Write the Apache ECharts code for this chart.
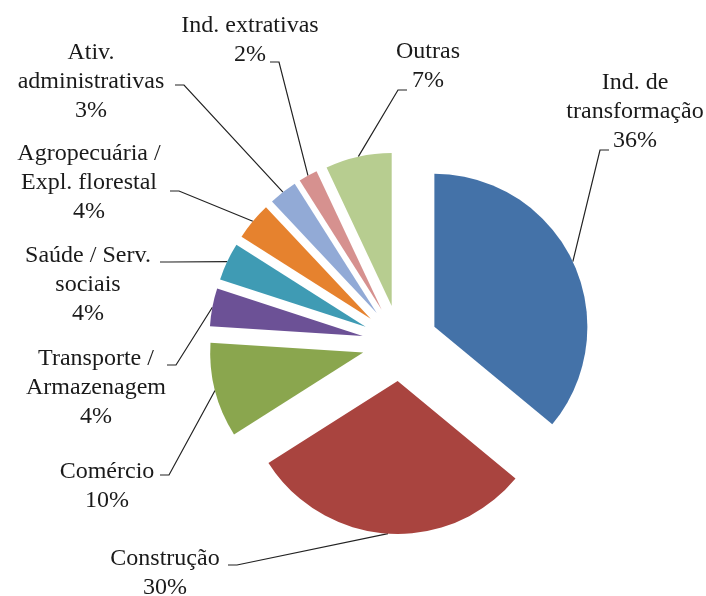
<!DOCTYPE html>
<html>
<head>
<meta charset="utf-8">
<script src="https://cdn.jsdelivr.net/npm/echarts@6/dist/echarts.min.js"></script>
<style>
  html, body { margin: 0; padding: 0; background: #fff; }
  #chart { width: 706px; height: 596px; }
</style>
</head>
<body>
<div id="chart"></div>
<script>
// dados (%)
const sectors = [
  "Ind. de\ntransformação", "Construção", "Comércio", "Transporte /\nArmazenagem",
  "Saúde / Serv.\nsociais", "Agropecuária /\nExpl. florestal", "Ativ.\nadministrativas",
  "Ind. extrativas", "Outras"
];
const shares = [36, 30, 10, 4, 4, 4, 3, 2, 7];
const colors = ["#4472a8", "#a9443f", "#8aa64e", "#6c5196", "#3f9bb4", "#e6822e", "#92aad6", "#d6918f", "#b7cd90"];

// layout: centre of each label block and where its leader line meets the text
const labelAt = [[635, 112], [165, 573], [107, 486], [96, 388], [88, 285], [89, 183], [91, 82], [250, 40], [428, 66]];
const leaderEnd = [[609, 150], [228, 565], [160, 475], [167, 365], [160, 262], [170, 191], [175, 85], [270, 62], [407, 90]];

const cx = 400, cy = 343, R = 153, gap = 38;
const total = shares.reduce((a, b) => a + b, 0);

// ponto no arco (fatia deslocada) no ângulo médio
function arcPoint(i) {
  let before = 0;
  for (let k = 0; k < i; k++) before += shares[k];
  const mid = (before + shares[i] / 2) / total * 2 * Math.PI;
  return [cx + (R + gap) * Math.sin(mid), cy - (R + gap) * Math.cos(mid)];
}

const base = {
  type: "pie",
  center: [cx, cy],
  radius: R,
  startAngle: 90,
  clockwise: true,
  avoidLabelOverlap: false,
  silent: true,
  emphasis: { disabled: true }
};

const chart = echarts.init(document.getElementById("chart"));
chart.setOption({
  animation: false,
  series: [
    // fatias destacadas
    Object.assign({}, base, {
      selectedMode: "multiple",
      selectedOffset: gap,
      label: { show: false },
      labelLine: { show: false },
      data: sectors.map((n, i) => ({ name: n, value: shares[i], selected: true, itemStyle: { color: colors[i] } }))
    }),
    // rótulos e linhas de chamada
    Object.assign({}, base, {
      itemStyle: { color: "rgba(0,0,0,0)" },
      label: {
        show: true,
        formatter: p => p.name + "\n" + p.value + "%",
        fontFamily: "Liberation Serif",
        fontSize: 24,
        lineHeight: 29,
        color: "#1a1a1a",
        align: "center"
      },
      labelLine: { show: true, lineStyle: { color: "#222", width: 1.2 } },
      labelLayout: p => {
        const i = p.dataIndex;
        const e = leaderEnd[i];
        const side = e[0] < cx ? 1 : -1;
        return {
          x: labelAt[i][0], y: labelAt[i][1],
          align: "center", verticalAlign: "middle",
          labelLinePoints: [arcPoint(i), [e[0] + 9 * side, e[1]], e]
        };
      },
      data: sectors.map((n, i) => ({ name: n, value: shares[i] }))
    })
  ]
});
</script>
</body>
</html>
